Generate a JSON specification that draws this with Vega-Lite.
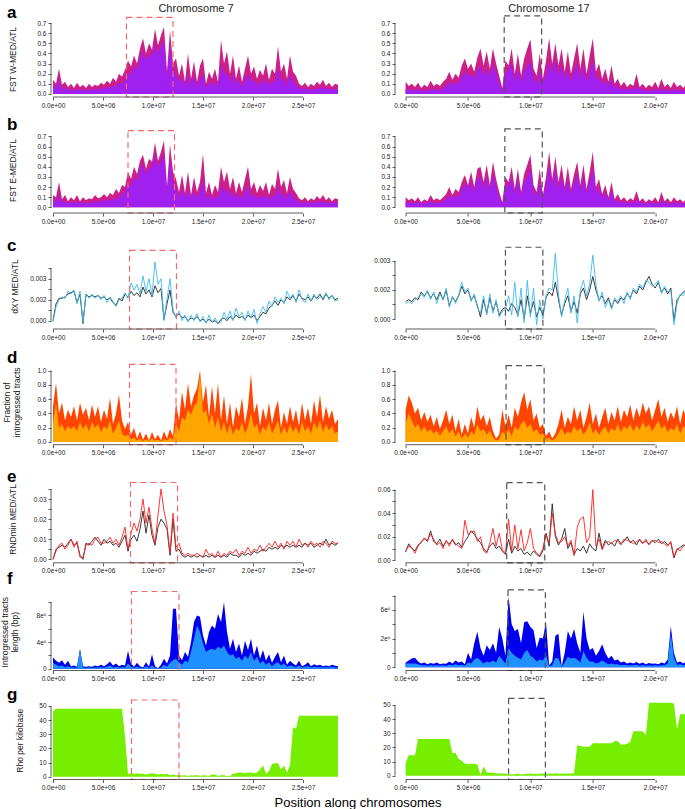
{
"$schema":"https://vega.github.io/schema/vega-lite/v6.json",
"background":"white",
"padding":{"left":0,"top":2,"right":0,"bottom":0},
"columns":2,
"bounds":"flush",
"spacing":{"row":30,"column":67.6},
"title":{"text":"Position along chromosomes","orient":"bottom","anchor":"middle","frame":"group","fontSize":13,"fontWeight":"normal","dx":305,"offset":6},
"datasets":{
"L":[
{"p":0,"a1":0.14,"a2":0.08,"b1":0.12,"b2":0.07,"c1":0,"c2":-0.0001,"d1":0.5,"d2":0.25,"e1":0,"e2":0,"f1":170000,"f2":90000,"g":46},
{"p":300000,"a1":0.1,"a2":0.06,"b1":0.1,"b2":0.05,"c1":0.0012,"c2":0.001,"d1":0.83,"d2":0.55,"e1":0.005,"e2":0.004,"f1":120000,"f2":60000,"g":48},
{"p":600000,"a1":0.25,"a2":0.13,"b1":0.25,"b2":0.12,"c1":0.0016,"c2":0.0015,"d1":0.4,"d2":0.2,"e1":0.006,"e2":0.007,"f1":90000,"f2":40000,"g":48},
{"p":900000,"a1":0.09,"a2":0.05,"b1":0.08,"b2":0.05,"c1":0.0016,"c2":0.0017,"d1":0.55,"d2":0.25,"e1":0.007,"e2":0.008,"f1":130000,"f2":50000,"g":48},
{"p":1200000,"a1":0.12,"a2":0.06,"b1":0.12,"b2":0.06,"c1":0.0017,"c2":0.0016,"d1":0.3,"d2":0.15,"e1":0.006,"e2":0.005,"f1":60000,"f2":25000,"g":48},
{"p":1500000,"a1":0.07,"a2":0.04,"b1":0.06,"b2":0.04,"c1":0.0019,"c2":0.0021,"d1":0.45,"d2":0.22,"e1":0.008,"e2":0.007,"f1":120000,"f2":40000,"g":48},
{"p":1800000,"a1":0.1,"a2":0.05,"b1":0.1,"b2":0.05,"c1":0.002,"c2":0.0019,"d1":0.35,"d2":0.18,"e1":0.01,"e2":0.01,"f1":40000,"f2":20000,"g":48},
{"p":2100000,"a1":0.06,"a2":0.03,"b1":0.07,"b2":0.04,"c1":0.0021,"c2":0.0022,"d1":0.5,"d2":0.22,"e1":0.007,"e2":0.006,"f1":50000,"f2":20000,"g":48},
{"p":2400000,"a1":0.11,"a2":0.05,"b1":0.12,"b2":0.06,"c1":0.0013,"c2":0.0012,"d1":0.3,"d2":0.15,"e1":0.008,"e2":0.009,"f1":30000,"f2":15000,"g":48},
{"p":2700000,"a1":0.07,"a2":0.04,"b1":0.06,"b2":0.04,"c1":0.0019,"c2":0.0021,"d1":0.55,"d2":0.28,"e1":0.002,"e2":0.001,"f1":300000,"f2":290000,"g":48},
{"p":3000000,"a1":0.09,"a2":0.05,"b1":0.1,"b2":0.05,"c1":-0.0002,"c2":-0.0001,"d1":0.38,"d2":0.18,"e1":0,"e2":0.001,"f1":40000,"f2":20000,"g":48},
{"p":3300000,"a1":0.06,"a2":0.03,"b1":0.07,"b2":0.04,"c1":0.0019,"c2":0.0019,"d1":0.48,"d2":0.25,"e1":0.008,"e2":0.007,"f1":30000,"f2":15000,"g":48},
{"p":3600000,"a1":0.1,"a2":0.05,"b1":0.09,"b2":0.05,"c1":0.0017,"c2":0.0016,"d1":0.3,"d2":0.15,"e1":0.007,"e2":0.008,"f1":40000,"f2":20000,"g":48},
{"p":3900000,"a1":0.07,"a2":0.04,"b1":0.08,"b2":0.04,"c1":0.0018,"c2":0.0019,"d1":0.52,"d2":0.28,"e1":0.009,"e2":0.007,"f1":30000,"f2":15000,"g":48},
{"p":4200000,"a1":0.09,"a2":0.05,"b1":0.12,"b2":0.06,"c1":0.0017,"c2":0.0016,"d1":0.35,"d2":0.2,"e1":0.011,"e2":0.01,"f1":50000,"f2":20000,"g":48},
{"p":4500000,"a1":0.08,"a2":0.04,"b1":0.09,"b2":0.05,"c1":0.0018,"c2":0.0018,"d1":0.5,"d2":0.25,"e1":0.009,"e2":0.011,"f1":40000,"f2":18000,"g":48},
{"p":4800000,"a1":0.11,"a2":0.06,"b1":0.1,"b2":0.06,"c1":0.0016,"c2":0.0015,"d1":0.28,"d2":0.14,"e1":0.007,"e2":0.008,"f1":60000,"f2":25000,"g":48},
{"p":5100000,"a1":0.09,"a2":0.05,"b1":0.13,"b2":0.07,"c1":0.0017,"c2":0.0018,"d1":0.45,"d2":0.22,"e1":0.01,"e2":0.008,"f1":40000,"f2":20000,"g":48},
{"p":5400000,"a1":0.13,"a2":0.07,"b1":0.1,"b2":0.06,"c1":0.0015,"c2":0.0013,"d1":0.32,"d2":0.18,"e1":0.008,"e2":0.009,"f1":70000,"f2":30000,"g":48},
{"p":5700000,"a1":0.1,"a2":0.06,"b1":0.14,"b2":0.08,"c1":0.0016,"c2":0.0017,"d1":0.62,"d2":0.3,"e1":0.009,"e2":0.011,"f1":110000,"f2":50000,"g":48},
{"p":6000000,"a1":0.16,"a2":0.09,"b1":0.12,"b2":0.07,"c1":0.0013,"c2":0.0014,"d1":0.25,"d2":0.12,"e1":0.007,"e2":0.008,"f1":50000,"f2":20000,"g":48},
{"p":6300000,"a1":0.12,"a2":0.07,"b1":0.18,"b2":0.1,"c1":0.0011,"c2":0.001,"d1":0.4,"d2":0.2,"e1":0.008,"e2":0.01,"f1":80000,"f2":30000,"g":48},
{"p":6600000,"a1":0.2,"a2":0.11,"b1":0.14,"b2":0.08,"c1":0.0016,"c2":0.0015,"d1":0.66,"d2":0.3,"e1":0.006,"e2":0.007,"f1":40000,"f2":20000,"g":48},
{"p":6900000,"a1":0.17,"a2":0.1,"b1":0.22,"b2":0.14,"c1":0.0014,"c2":0.0016,"d1":0.3,"d2":0.12,"e1":0.009,"e2":0.011,"f1":60000,"f2":25000,"g":48},
{"p":7200000,"a1":0.24,"a2":0.13,"b1":0.2,"b2":0.14,"c1":0.0019,"c2":0.002,"d1":0.18,"d2":0.08,"e1":0.012,"e2":0.016,"f1":50000,"f2":20000,"g":28},
{"p":7500000,"a1":0.33,"a2":0.22,"b1":0.35,"b2":0.25,"c1":0.0017,"c2":0.0016,"d1":0.28,"d2":0.1,"e1":0.004,"e2":0.005,"f1":270000,"f2":80000,"g":2},
{"p":7800000,"a1":0.27,"a2":0.18,"b1":0.28,"b2":0.2,"c1":0.0021,"c2":0.0027,"d1":0.1,"d2":0.04,"e1":0.01,"e2":0.013,"f1":80000,"f2":30000,"g":2.5},
{"p":8100000,"a1":0.38,"a2":0.28,"b1":0.4,"b2":0.3,"c1":0.0018,"c2":0.0022,"d1":0.2,"d2":0.06,"e1":0.012,"e2":0.018,"f1":30000,"f2":15000,"g":2},
{"p":8400000,"a1":0.3,"a2":0.24,"b1":0.33,"b2":0.26,"c1":0.002,"c2":0.0026,"d1":0.05,"d2":0.02,"e1":0.009,"e2":0.014,"f1":90000,"f2":30000,"g":2.5},
{"p":8700000,"a1":0.45,"a2":0.35,"b1":0.46,"b2":0.37,"c1":0.0017,"c2":0.0019,"d1":0.15,"d2":0.05,"e1":0.015,"e2":0.02,"f1":40000,"f2":15000,"g":2},
{"p":9000000,"a1":0.55,"a2":0.42,"b1":0.52,"b2":0.42,"c1":0.0024,"c2":0.0032,"d1":0.03,"d2":0.01,"e1":0.024,"e2":0.03,"f1":20000,"f2":10000,"g":2},
{"p":9300000,"a1":0.4,"a2":0.33,"b1":0.38,"b2":0.32,"c1":0.0019,"c2":0.0021,"d1":0.12,"d2":0.04,"e1":0.013,"e2":0.018,"f1":100000,"f2":40000,"g":1.5},
{"p":9600000,"a1":0.5,"a2":0.4,"b1":0.48,"b2":0.4,"c1":0.0022,"c2":0.003,"d1":0.02,"d2":0.01,"e1":0.022,"e2":0.026,"f1":30000,"f2":10000,"g":2},
{"p":9900000,"a1":0.44,"a2":0.36,"b1":0.45,"b2":0.38,"c1":0.0017,"c2":0.0018,"d1":0.14,"d2":0.05,"e1":0.012,"e2":0.015,"f1":220000,"f2":50000,"g":2.5},
{"p":10200000,"a1":0.64,"a2":0.5,"b1":0.64,"b2":0.52,"c1":0.0025,"c2":0.0042,"d1":0.04,"d2":0.02,"e1":0.007,"e2":0.008,"f1":40000,"f2":15000,"g":2},
{"p":10500000,"a1":0.48,"a2":0.4,"b1":0.46,"b2":0.4,"c1":0.002,"c2":0.0026,"d1":0.1,"d2":0.03,"e1":0.016,"e2":0.022,"f1":10000,"f2":5000,"g":1.5},
{"p":10800000,"a1":0.58,"a2":0.47,"b1":0.55,"b2":0.45,"c1":0.0023,"c2":0.003,"d1":0.02,"d2":0.01,"e1":0.02,"e2":0.035,"f1":60000,"f2":20000,"g":2},
{"p":11100000,"a1":0.66,"a2":0.52,"b1":0.66,"b2":0.54,"c1":0.0001,"c2":0,"d1":0.15,"d2":0.04,"e1":0.018,"e2":0.024,"f1":150000,"f2":60000,"g":1.5},
{"p":11400000,"a1":0.22,"a2":0.16,"b1":0.2,"b2":0.15,"c1":0.0012,"c2":0.0016,"d1":0.05,"d2":0.02,"e1":0.015,"e2":0.017,"f1":80000,"f2":30000,"g":2},
{"p":11700000,"a1":0.63,"a2":0.48,"b1":0.62,"b2":0.5,"c1":0.0022,"c2":0.003,"d1":0.18,"d2":0.06,"e1":0.002,"e2":0.003,"f1":200000,"f2":90000,"g":1},
{"p":12000000,"a1":0.3,"a2":0.22,"b1":0.35,"b2":0.25,"c1":0.0006,"c2":0.0008,"d1":0.08,"d2":0.03,"e1":0.02,"e2":0.023,"f1":900000,"f2":130000,"g":1.5},
{"p":12300000,"a1":0.35,"a2":0.2,"b1":0.28,"b2":0.18,"c1":0.0003,"c2":0.0002,"d1":0.55,"d2":0.25,"e1":0.004,"e2":0.006,"f1":900000,"f2":150000,"g":1},
{"p":12600000,"a1":0.18,"a2":0.12,"b1":0.15,"b2":0.1,"c1":0.0005,"c2":0.0007,"d1":0.3,"d2":0.15,"e1":0.005,"e2":0.008,"f1":200000,"f2":100000,"g":1},
{"p":12900000,"a1":0.3,"a2":0.15,"b1":0.32,"b2":0.18,"c1":0.0002,"c2":0,"d1":0.7,"d2":0.35,"e1":0.002,"e2":0.003,"f1":130000,"f2":60000,"g":0.8},
{"p":13200000,"a1":0.12,"a2":0.08,"b1":0.14,"b2":0.09,"c1":0.0003,"c2":0.0004,"d1":0.45,"d2":0.3,"e1":0.001,"e2":0.002,"f1":250000,"f2":120000,"g":1},
{"p":13500000,"a1":0.4,"a2":0.2,"b1":0.35,"b2":0.18,"c1":0,"c2":-0.0001,"d1":0.82,"d2":0.45,"e1":0.002,"e2":0.003,"f1":180000,"f2":100000,"g":0.5},
{"p":13800000,"a1":0.15,"a2":0.09,"b1":0.12,"b2":0.08,"c1":0.0002,"c2":0.0004,"d1":0.5,"d2":0.38,"e1":0.001,"e2":0.002,"f1":400000,"f2":250000,"g":1},
{"p":14100000,"a1":0.32,"a2":0.18,"b1":0.3,"b2":0.16,"c1":0.0001,"c2":0,"d1":0.65,"d2":0.5,"e1":0.002,"e2":0.002,"f1":700000,"f2":450000,"g":0.8},
{"p":14400000,"a1":0.12,"a2":0.07,"b1":0.15,"b2":0.09,"c1":0.0003,"c2":0.0005,"d1":0.75,"d2":0.55,"e1":0.001,"e2":0.003,"f1":800000,"f2":650000,"g":1.2},
{"p":14700000,"a1":0.28,"a2":0.15,"b1":0.25,"b2":0.14,"c1":0,"c2":-0.0001,"d1":1,"d2":0.95,"e1":0.002,"e2":0.002,"f1":780000,"f2":550000,"g":0.5},
{"p":15000000,"a1":0.35,"a2":0.18,"b1":0.53,"b2":0.28,"c1":0.0001,"c2":0.0003,"d1":0.55,"d2":0.4,"e1":0.001,"e2":0.001,"f1":500000,"f2":380000,"g":1},
{"p":15300000,"a1":0.1,"a2":0.06,"b1":0.14,"b2":0.08,"c1":-0.0001,"c2":-0.0002,"d1":0.8,"d2":0.45,"e1":0.002,"e2":0.005,"f1":350000,"f2":250000,"g":0.8},
{"p":15600000,"a1":0.22,"a2":0.12,"b1":0.25,"b2":0.13,"c1":0.0001,"c2":0.0004,"d1":0.35,"d2":0.25,"e1":0.001,"e2":0.002,"f1":550000,"f2":280000,"g":0.5},
{"p":15900000,"a1":0.15,"a2":0.08,"b1":0.12,"b2":0.07,"c1":-0.0001,"c2":-0.0001,"d1":0.78,"d2":0.4,"e1":0.002,"e2":0.003,"f1":650000,"f2":300000,"g":1.5},
{"p":16200000,"a1":0.25,"a2":0.13,"b1":0.22,"b2":0.12,"c1":0,"c2":0.0002,"d1":0.4,"d2":0.2,"e1":0.001,"e2":0.001,"f1":600000,"f2":280000,"g":1.5},
{"p":16500000,"a1":0.12,"a2":0.07,"b1":0.15,"b2":0.08,"c1":-0.0002,"c2":-0.0002,"d1":0.82,"d2":0.35,"e1":0.002,"e2":0.004,"f1":820000,"f2":330000,"g":0.5},
{"p":16800000,"a1":0.53,"a2":0.3,"b1":0.4,"b2":0.22,"c1":0.0001,"c2":-0.0001,"d1":0.3,"d2":0.15,"e1":0.001,"e2":0.001,"f1":700000,"f2":300000,"g":1},
{"p":17100000,"a1":0.3,"a2":0.18,"b1":0.25,"b2":0.14,"c1":0.0002,"c2":0.0006,"d1":0.65,"d2":0.28,"e1":0.002,"e2":0.003,"f1":1000000,"f2":350000,"g":1},
{"p":17400000,"a1":0.42,"a2":0.22,"b1":0.35,"b2":0.19,"c1":0,"c2":0.0001,"d1":0.25,"d2":0.12,"e1":0.001,"e2":0.002,"f1":550000,"f2":250000,"g":0.5},
{"p":17700000,"a1":0.2,"a2":0.12,"b1":0.18,"b2":0.1,"c1":0.0003,"c2":0.0007,"d1":0.55,"d2":0.25,"e1":0.003,"e2":0.004,"f1":300000,"f2":200000,"g":0.5},
{"p":18000000,"a1":0.38,"a2":0.2,"b1":0.3,"b2":0.16,"c1":0.0001,"c2":0,"d1":0.2,"d2":0.1,"e1":0.002,"e2":0.003,"f1":450000,"f2":220000,"g":2},
{"p":18300000,"a1":0.15,"a2":0.09,"b1":0.14,"b2":0.08,"c1":0.0004,"c2":0.0009,"d1":0.5,"d2":0.2,"e1":0.002,"e2":0.005,"f1":250000,"f2":150000,"g":2.5},
{"p":18600000,"a1":0.28,"a2":0.15,"b1":0.25,"b2":0.13,"c1":0.0002,"c2":0.0003,"d1":0.35,"d2":0.15,"e1":0.001,"e2":0.002,"f1":380000,"f2":180000,"g":3},
{"p":18900000,"a1":0.12,"a2":0.07,"b1":0.15,"b2":0.08,"c1":0.0003,"c2":0.0006,"d1":0.62,"d2":0.28,"e1":0.003,"e2":0.004,"f1":200000,"f2":120000,"g":3},
{"p":19200000,"a1":0.25,"a2":0.14,"b1":0.28,"b2":0.15,"c1":0.0001,"c2":0,"d1":0.25,"d2":0.12,"e1":0.002,"e2":0.003,"f1":420000,"f2":200000,"g":2.5},
{"p":19500000,"a1":0.38,"a2":0.2,"b1":0.4,"b2":0.21,"c1":0.0004,"c2":0.0007,"d1":0.5,"d2":0.22,"e1":0.003,"e2":0.006,"f1":280000,"f2":150000,"g":3},
{"p":19800000,"a1":0.2,"a2":0.11,"b1":0.18,"b2":0.1,"c1":0.0002,"c2":0.0002,"d1":0.95,"d2":0.4,"e1":0.002,"e2":0.003,"f1":450000,"f2":250000,"g":3},
{"p":20100000,"a1":0.27,"a2":0.15,"b1":0.25,"b2":0.13,"c1":0.0004,"c2":0.0008,"d1":0.4,"d2":0.2,"e1":0.004,"e2":0.005,"f1":200000,"f2":120000,"g":2.5},
{"p":20400000,"a1":0.15,"a2":0.08,"b1":0.14,"b2":0.08,"c1":0,"c2":-0.0002,"d1":0.55,"d2":0.25,"e1":0.003,"e2":0.004,"f1":350000,"f2":180000,"g":3},
{"p":20700000,"a1":0.24,"a2":0.13,"b1":0.22,"b2":0.12,"c1":0.0003,"c2":0.0005,"d1":0.22,"d2":0.1,"e1":0.004,"e2":0.007,"f1":150000,"f2":80000,"g":5},
{"p":21000000,"a1":0.18,"a2":0.1,"b1":0.16,"b2":0.09,"c1":0.0006,"c2":0.001,"d1":0.48,"d2":0.22,"e1":0.005,"e2":0.004,"f1":280000,"f2":120000,"g":8},
{"p":21300000,"a1":0.3,"a2":0.15,"b1":0.25,"b2":0.13,"c1":0.0005,"c2":0.0006,"d1":0.3,"d2":0.15,"e1":0.004,"e2":0.006,"f1":120000,"f2":60000,"g":2},
{"p":21600000,"a1":0.14,"a2":0.08,"b1":0.12,"b2":0.07,"c1":0.0009,"c2":0.0014,"d1":0.55,"d2":0.28,"e1":0.006,"e2":0.008,"f1":220000,"f2":100000,"g":4},
{"p":21900000,"a1":0.25,"a2":0.13,"b1":0.23,"b2":0.12,"c1":0.0011,"c2":0.001,"d1":0.25,"d2":0.12,"e1":0.005,"e2":0.006,"f1":90000,"f2":40000,"g":9},
{"p":22200000,"a1":0.2,"a2":0.11,"b1":0.18,"b2":0.1,"c1":0.0014,"c2":0.0017,"d1":0.45,"d2":0.2,"e1":0.006,"e2":0.009,"f1":180000,"f2":80000,"g":9.5},
{"p":22500000,"a1":0.47,"a2":0.25,"b1":0.38,"b2":0.2,"c1":0.0011,"c2":0.0013,"d1":0.58,"d2":0.3,"e1":0.005,"e2":0.006,"f1":250000,"f2":100000,"g":9.5},
{"p":22800000,"a1":0.22,"a2":0.12,"b1":0.2,"b2":0.11,"c1":0.0015,"c2":0.0016,"d1":0.2,"d2":0.1,"e1":0.007,"e2":0.008,"f1":100000,"f2":50000,"g":5},
{"p":23100000,"a1":0.3,"a2":0.16,"b1":0.27,"b2":0.14,"c1":0.0013,"c2":0.0012,"d1":0.42,"d2":0.22,"e1":0.006,"e2":0.005,"f1":200000,"f2":80000,"g":8},
{"p":23400000,"a1":0.15,"a2":0.08,"b1":0.14,"b2":0.08,"c1":0.0017,"c2":0.0021,"d1":0.25,"d2":0.12,"e1":0.007,"e2":0.009,"f1":60000,"f2":30000,"g":3},
{"p":23700000,"a1":0.38,"a2":0.2,"b1":0.3,"b2":0.16,"c1":0.0015,"c2":0.0016,"d1":0.5,"d2":0.25,"e1":0.006,"e2":0.007,"f1":120000,"f2":50000,"g":8},
{"p":24000000,"a1":0.22,"a2":0.12,"b1":0.18,"b2":0.1,"c1":0.0018,"c2":0.0019,"d1":0.28,"d2":0.14,"e1":0.007,"e2":0.009,"f1":80000,"f2":40000,"g":35},
{"p":24300000,"a1":0.18,"a2":0.09,"b1":0.14,"b2":0.08,"c1":0.0014,"c2":0.0013,"d1":0.45,"d2":0.22,"e1":0.006,"e2":0.006,"f1":50000,"f2":25000,"g":34},
{"p":24600000,"a1":0.1,"a2":0.06,"b1":0.09,"b2":0.05,"c1":0.0019,"c2":0.0022,"d1":0.22,"d2":0.1,"e1":0.007,"e2":0.01,"f1":120000,"f2":50000,"g":43},
{"p":24900000,"a1":0.08,"a2":0.05,"b1":0.07,"b2":0.04,"c1":0.0016,"c2":0.0015,"d1":0.55,"d2":0.28,"e1":0.006,"e2":0.007,"f1":40000,"f2":20000,"g":43},
{"p":25200000,"a1":0.11,"a2":0.06,"b1":0.1,"b2":0.06,"c1":0.0015,"c2":0.0013,"d1":0.3,"d2":0.15,"e1":0.008,"e2":0.008,"f1":60000,"f2":30000,"g":43},
{"p":25500000,"a1":0.07,"a2":0.04,"b1":0.06,"b2":0.04,"c1":0.0017,"c2":0.0019,"d1":0.48,"d2":0.22,"e1":0.007,"e2":0.006,"f1":100000,"f2":40000,"g":43},
{"p":25800000,"a1":0.1,"a2":0.05,"b1":0.09,"b2":0.05,"c1":0.0014,"c2":0.0014,"d1":0.25,"d2":0.12,"e1":0.008,"e2":0.009,"f1":40000,"f2":20000,"g":43},
{"p":26100000,"a1":0.08,"a2":0.04,"b1":0.07,"b2":0.04,"c1":0.0018,"c2":0.0019,"d1":0.58,"d2":0.28,"e1":0.006,"e2":0.007,"f1":70000,"f2":30000,"g":43},
{"p":26400000,"a1":0.12,"a2":0.06,"b1":0.11,"b2":0.06,"c1":0.0016,"c2":0.0015,"d1":0.35,"d2":0.18,"e1":0.007,"e2":0.008,"f1":50000,"f2":25000,"g":43},
{"p":26700000,"a1":0.09,"a2":0.05,"b1":0.08,"b2":0.05,"c1":0.0019,"c2":0.0017,"d1":0.66,"d2":0.3,"e1":0.008,"e2":0.006,"f1":60000,"f2":25000,"g":43},
{"p":27000000,"a1":0.14,"a2":0.07,"b1":0.12,"b2":0.06,"c1":0.0015,"c2":0.0016,"d1":0.28,"d2":0.14,"e1":0.007,"e2":0.009,"f1":40000,"f2":20000,"g":43},
{"p":27300000,"a1":0.08,"a2":0.05,"b1":0.07,"b2":0.04,"c1":0.0019,"c2":0.002,"d1":0.5,"d2":0.25,"e1":0.01,"e2":0.008,"f1":50000,"f2":25000,"g":43},
{"p":27600000,"a1":0.11,"a2":0.06,"b1":0.1,"b2":0.05,"c1":0.0016,"c2":0.0015,"d1":0.32,"d2":0.16,"e1":0.007,"e2":0.006,"f1":40000,"f2":20000,"g":43},
{"p":27900000,"a1":0.07,"a2":0.04,"b1":0.06,"b2":0.04,"c1":0.0018,"c2":0.0018,"d1":0.45,"d2":0.22,"e1":0.008,"e2":0.009,"f1":60000,"f2":30000,"g":43},
{"p":28200000,"a1":0.1,"a2":0.05,"b1":0.09,"b2":0.05,"c1":0.0015,"c2":0.0014,"d1":0.25,"d2":0.12,"e1":0.007,"e2":0.008,"f1":45000,"f2":20000,"g":43},
{"p":28500000,"a1":0.09,"a2":0.05,"b1":0.08,"b2":0.04,"c1":0.0016,"c2":0.0015,"d1":0.32,"d2":0.15,"e1":0.008,"e2":0.008,"f1":40000,"f2":20000,"g":43}
],
"R":[
{"p":0,"a1":0.12,"a2":0.05,"b1":0.1,"b2":0.06,"c1":0.0009,"c2":0.0008,"d1":0.45,"d2":0.25,"e1":0.007,"e2":0.008,"f1":50000,"f2":40000,"g":9},
{"p":250000,"a1":0.08,"a2":0.04,"b1":0.07,"b2":0.04,"c1":0.001,"c2":0.0009,"d1":0.65,"d2":0.4,"e1":0.014,"e2":0.012,"f1":70000,"f2":40000,"g":14.5},
{"p":500000,"a1":0.1,"a2":0.05,"b1":0.09,"b2":0.05,"c1":0.0009,"c2":0.0008,"d1":0.55,"d2":0.3,"e1":0.01,"e2":0.011,"f1":90000,"f2":40000,"g":14.5},
{"p":750000,"a1":0.07,"a2":0.03,"b1":0.06,"b2":0.04,"c1":0.0011,"c2":0.001,"d1":0.4,"d2":0.2,"e1":0.008,"e2":0.006,"f1":100000,"f2":40000,"g":14.5},
{"p":1000000,"a1":0.11,"a2":0.05,"b1":0.1,"b2":0.06,"c1":0.001,"c2":0.0011,"d1":0.48,"d2":0.25,"e1":0.013,"e2":0.012,"f1":60000,"f2":30000,"g":26},
{"p":1250000,"a1":0.06,"a2":0.03,"b1":0.05,"b2":0.03,"c1":0.0014,"c2":0.0013,"d1":0.3,"d2":0.15,"e1":0.015,"e2":0.016,"f1":40000,"f2":20000,"g":26},
{"p":1500000,"a1":0.09,"a2":0.04,"b1":0.08,"b2":0.05,"c1":0.0012,"c2":0.0011,"d1":0.42,"d2":0.22,"e1":0.019,"e2":0.018,"f1":50000,"f2":20000,"g":26},
{"p":1750000,"a1":0.07,"a2":0.03,"b1":0.06,"b2":0.04,"c1":0.0014,"c2":0.0015,"d1":0.28,"d2":0.14,"e1":0.016,"e2":0.017,"f1":30000,"f2":15000,"g":26},
{"p":2000000,"a1":0.13,"a2":0.05,"b1":0.12,"b2":0.06,"c1":0.0011,"c2":0.001,"d1":0.38,"d2":0.18,"e1":0.025,"e2":0.022,"f1":45000,"f2":20000,"g":26},
{"p":2250000,"a1":0.08,"a2":0.04,"b1":0.07,"b2":0.04,"c1":0.0013,"c2":0.0014,"d1":0.22,"d2":0.12,"e1":0.016,"e2":0.018,"f1":35000,"f2":15000,"g":26},
{"p":2500000,"a1":0.1,"a2":0.05,"b1":0.09,"b2":0.05,"c1":0.001,"c2":0.0008,"d1":0.35,"d2":0.16,"e1":0.014,"e2":0.013,"f1":50000,"f2":20000,"g":26},
{"p":2750000,"a1":0.08,"a2":0.04,"b1":0.07,"b2":0.04,"c1":0.0014,"c2":0.0013,"d1":0.18,"d2":0.09,"e1":0.018,"e2":0.015,"f1":30000,"f2":15000,"g":26},
{"p":3000000,"a1":0.12,"a2":0.06,"b1":0.1,"b2":0.06,"c1":0.001,"c2":0.001,"d1":0.3,"d2":0.15,"e1":0.012,"e2":0.01,"f1":40000,"f2":20000,"g":26},
{"p":3250000,"a1":0.15,"a2":0.08,"b1":0.13,"b2":0.08,"c1":0.0015,"c2":0.0016,"d1":0.45,"d2":0.22,"e1":0.016,"e2":0.017,"f1":35000,"f2":15000,"g":26},
{"p":3500000,"a1":0.22,"a2":0.12,"b1":0.2,"b2":0.12,"c1":0.0007,"c2":0.0006,"d1":0.25,"d2":0.12,"e1":0.014,"e2":0.012,"f1":60000,"f2":25000,"g":26},
{"p":3750000,"a1":0.14,"a2":0.08,"b1":0.12,"b2":0.08,"c1":0.0011,"c2":0.0012,"d1":0.38,"d2":0.18,"e1":0.017,"e2":0.018,"f1":40000,"f2":20000,"g":16},
{"p":4000000,"a1":0.2,"a2":0.12,"b1":0.18,"b2":0.12,"c1":0.0009,"c2":0.0008,"d1":0.15,"d2":0.08,"e1":0.013,"e2":0.014,"f1":70000,"f2":30000,"g":16},
{"p":4250000,"a1":0.16,"a2":0.1,"b1":0.15,"b2":0.1,"c1":0.0012,"c2":0.0012,"d1":0.32,"d2":0.15,"e1":0.015,"e2":0.012,"f1":50000,"f2":20000,"g":12},
{"p":4500000,"a1":0.28,"a2":0.17,"b1":0.25,"b2":0.18,"c1":0.0017,"c2":0.0019,"d1":0.1,"d2":0.05,"e1":0.011,"e2":0.01,"f1":60000,"f2":25000,"g":10.5},
{"p":4750000,"a1":0.35,"a2":0.22,"b1":0.32,"b2":0.24,"c1":0.0013,"c2":0.0014,"d1":0.25,"d2":0.12,"e1":0.016,"e2":0.034,"f1":30000,"f2":15000,"g":8.5},
{"p":5000000,"a1":0.25,"a2":0.17,"b1":0.22,"b2":0.17,"c1":0.0015,"c2":0.0016,"d1":0.12,"d2":0.06,"e1":0.02,"e2":0.022,"f1":150000,"f2":50000,"g":8.5},
{"p":5250000,"a1":0.3,"a2":0.2,"b1":0.35,"b2":0.26,"c1":0.001,"c2":0.0009,"d1":0.35,"d2":0.15,"e1":0.025,"e2":0.024,"f1":80000,"f2":40000,"g":8.5},
{"p":5500000,"a1":0.22,"a2":0.15,"b1":0.2,"b2":0.15,"c1":0.0012,"c2":0.0013,"d1":0.2,"d2":0.1,"e1":0.022,"e2":0.025,"f1":250000,"f2":80000,"g":8.5},
{"p":5750000,"a1":0.36,"a2":0.24,"b1":0.38,"b2":0.28,"c1":0.0007,"c2":0.0006,"d1":0.5,"d2":0.25,"e1":0.018,"e2":0.016,"f1":370000,"f2":100000,"g":8},
{"p":6000000,"a1":0.45,"a2":0.28,"b1":0.4,"b2":0.3,"c1":0.0001,"c2":0.0003,"d1":0.3,"d2":0.15,"e1":0.015,"e2":0.02,"f1":200000,"f2":70000,"g":0.5},
{"p":6250000,"a1":0.28,"a2":0.18,"b1":0.25,"b2":0.18,"c1":0.001,"c2":0.0012,"d1":0.38,"d2":0.18,"e1":0.01,"e2":0.008,"f1":120000,"f2":40000,"g":6.5},
{"p":6500000,"a1":0.42,"a2":0.26,"b1":0.42,"b2":0.3,"c1":0.0003,"c2":0.0002,"d1":0.22,"d2":0.1,"e1":0.007,"e2":0.006,"f1":230000,"f2":60000,"g":2.5},
{"p":6750000,"a1":0.25,"a2":0.16,"b1":0.22,"b2":0.16,"c1":0.0011,"c2":0.0013,"d1":0.35,"d2":0.16,"e1":0.012,"e2":0.015,"f1":180000,"f2":50000,"g":2},
{"p":7000000,"a1":0.45,"a2":0.3,"b1":0.45,"b2":0.33,"c1":0.0004,"c2":0.0003,"d1":0.15,"d2":0.07,"e1":0.015,"e2":0.027,"f1":250000,"f2":70000,"g":2},
{"p":7250000,"a1":0.3,"a2":0.2,"b1":0.28,"b2":0.2,"c1":0.0009,"c2":0.001,"d1":0.05,"d2":0.02,"e1":0.01,"e2":0.012,"f1":150000,"f2":50000,"g":1.8},
{"p":7500000,"a1":0.18,"a2":0.1,"b1":0.15,"b2":0.1,"c1":0.0002,"c2":0.0001,"d1":0.1,"d2":0.04,"e1":0.012,"e2":0.023,"f1":420000,"f2":120000,"g":1.5},
{"p":7750000,"a1":0.06,"a2":0.03,"b1":0.05,"b2":0.03,"c1":0.0005,"c2":0.0004,"d1":0.45,"d2":0.15,"e1":0.008,"e2":0.009,"f1":300000,"f2":80000,"g":1.5},
{"p":8000000,"a1":0.33,"a2":0.2,"b1":0.3,"b2":0.22,"c1":0.0006,"c2":0.0005,"d1":0.22,"d2":0.1,"e1":0.005,"e2":0.006,"f1":120000,"f2":40000,"g":1.5},
{"p":8250000,"a1":0.28,"a2":0.24,"b1":0.25,"b2":0.2,"c1":0.0004,"c2":0.0012,"d1":0.38,"d2":0.18,"e1":0.018,"e2":0.035,"f1":740000,"f2":200000,"g":1},
{"p":8500000,"a1":0.45,"a2":0.3,"b1":0.4,"b2":0.3,"c1":0.0008,"c2":0.0002,"d1":0.2,"d2":0.08,"e1":0.006,"e2":0.008,"f1":450000,"f2":150000,"g":1},
{"p":8750000,"a1":0.2,"a2":0.13,"b1":0.18,"b2":0.13,"c1":0.0006,"c2":0.0019,"d1":0.48,"d2":0.22,"e1":0.012,"e2":0.03,"f1":380000,"f2":120000,"g":1},
{"p":9000000,"a1":0.4,"a2":0.25,"b1":0.38,"b2":0.28,"c1":0.0002,"c2":0.0001,"d1":0.35,"d2":0.16,"e1":0.008,"e2":0.01,"f1":400000,"f2":100000,"g":1.5},
{"p":9250000,"a1":0.18,"a2":0.12,"b1":0.15,"b2":0.11,"c1":0.001,"c2":0.0016,"d1":0.55,"d2":0.25,"e1":0.01,"e2":0.026,"f1":250000,"f2":80000,"g":0.8},
{"p":9500000,"a1":0.35,"a2":0.22,"b1":0.33,"b2":0.24,"c1":0,"c2":-0.0002,"d1":0.7,"d2":0.3,"e1":0.005,"e2":0.008,"f1":470000,"f2":150000,"g":1.2},
{"p":9750000,"a1":0.45,"a2":0.28,"b1":0.42,"b2":0.3,"c1":0.0012,"c2":0.002,"d1":0.45,"d2":0.2,"e1":0.007,"e2":0.015,"f1":480000,"f2":180000,"g":1.3},
{"p":10000000,"a1":0.54,"a2":0.32,"b1":0.52,"b2":0.38,"c1":0.0003,"c2":0.0001,"d1":0.6,"d2":0.25,"e1":0.004,"e2":0.027,"f1":420000,"f2":120000,"g":1.5},
{"p":10250000,"a1":0.25,"a2":0.15,"b1":0.22,"b2":0.16,"c1":0.0009,"c2":0.0016,"d1":0.3,"d2":0.14,"e1":0.008,"e2":0.01,"f1":390000,"f2":100000,"g":1.2},
{"p":10500000,"a1":0.18,"a2":0.1,"b1":0.15,"b2":0.1,"c1":0.0001,"c2":-0.0003,"d1":0.4,"d2":0.18,"e1":0.005,"e2":0.006,"f1":200000,"f2":60000,"g":1.4},
{"p":10750000,"a1":0.4,"a2":0.22,"b1":0.38,"b2":0.25,"c1":0.0006,"c2":0.001,"d1":0.2,"d2":0.1,"e1":0.003,"e2":0.004,"f1":310000,"f2":80000,"g":1.3},
{"p":11000000,"a1":0.15,"a2":0.1,"b1":0.12,"b2":0.09,"c1":0.0002,"c2":0,"d1":0.25,"d2":0.12,"e1":0.008,"e2":0.01,"f1":300000,"f2":70000,"g":1.6},
{"p":11250000,"a1":0.33,"a2":0.2,"b1":0.3,"b2":0.22,"c1":0.0011,"c2":0.0012,"d1":0.08,"d2":0.04,"e1":0.023,"e2":0.022,"f1":470000,"f2":130000,"g":1.3},
{"p":11500000,"a1":0.55,"a2":0.32,"b1":0.55,"b2":0.4,"c1":0.0014,"c2":0.0016,"d1":0.15,"d2":0.06,"e1":0.012,"e2":0.015,"f1":20000,"f2":10000,"g":1.5},
{"p":11750000,"a1":0.3,"a2":0.2,"b1":0.28,"b2":0.2,"c1":0.0012,"c2":0.0015,"d1":0.05,"d2":0.02,"e1":0.048,"e2":0.04,"f1":60000,"f2":20000,"g":1.4},
{"p":12000000,"a1":0.5,"a2":0.35,"b1":0.5,"b2":0.38,"c1":0.0019,"c2":0.0034,"d1":0.12,"d2":0.05,"e1":0.02,"e2":0.022,"f1":330000,"f2":100000,"g":1.8},
{"p":12250000,"a1":0.28,"a2":0.18,"b1":0.25,"b2":0.18,"c1":0.001,"c2":0.0013,"d1":0.25,"d2":0.12,"e1":0.013,"e2":0.015,"f1":350000,"f2":90000,"g":1.3},
{"p":12500000,"a1":0.45,"a2":0.28,"b1":0.42,"b2":0.3,"c1":0.0002,"c2":0.0001,"d1":0.45,"d2":0.2,"e1":0.018,"e2":0.016,"f1":10000,"f2":5000,"g":1.5},
{"p":12750000,"a1":0.22,"a2":0.14,"b1":0.2,"b2":0.15,"c1":0.0008,"c2":0.001,"d1":0.2,"d2":0.1,"e1":0.027,"e2":0.02,"f1":150000,"f2":50000,"g":1.4},
{"p":13000000,"a1":0.42,"a2":0.26,"b1":0.4,"b2":0.28,"c1":0.0012,"c2":0.0016,"d1":0.35,"d2":0.15,"e1":0.01,"e2":0.012,"f1":380000,"f2":110000,"g":1.6},
{"p":13250000,"a1":0.2,"a2":0.12,"b1":0.18,"b2":0.13,"c1":0.0004,"c2":0.0003,"d1":0.25,"d2":0.12,"e1":0.015,"e2":0.017,"f1":300000,"f2":90000,"g":1.5},
{"p":13500000,"a1":0.35,"a2":0.22,"b1":0.33,"b2":0.24,"c1":0.0009,"c2":0.0012,"d1":0.5,"d2":0.22,"e1":0.005,"e2":0.004,"f1":400000,"f2":100000,"g":1.7},
{"p":13750000,"a1":0.5,"a2":0.3,"b1":0.45,"b2":0.33,"c1":0.0003,"c2":-0.0002,"d1":0.3,"d2":0.15,"e1":0.01,"e2":0.028,"f1":250000,"f2":80000,"g":21.5},
{"p":14000000,"a1":0.25,"a2":0.15,"b1":0.22,"b2":0.16,"c1":0.0013,"c2":0.0015,"d1":0.45,"d2":0.2,"e1":0.008,"e2":0.035,"f1":150000,"f2":50000,"g":21},
{"p":14250000,"a1":0.45,"a2":0.28,"b1":0.42,"b2":0.3,"c1":0.0016,"c2":0.002,"d1":0.2,"d2":0.1,"e1":0.012,"e2":0.037,"f1":580000,"f2":170000,"g":20.5},
{"p":14500000,"a1":0.2,"a2":0.12,"b1":0.18,"b2":0.13,"c1":0.001,"c2":0.0012,"d1":0.35,"d2":0.16,"e1":0.006,"e2":0.015,"f1":300000,"f2":100000,"g":20.5},
{"p":14750000,"a1":0.38,"a2":0.22,"b1":0.35,"b2":0.25,"c1":0.0015,"c2":0.0018,"d1":0.55,"d2":0.28,"e1":0.014,"e2":0.02,"f1":180000,"f2":60000,"g":20.5},
{"p":15000000,"a1":0.55,"a2":0.32,"b1":0.55,"b2":0.38,"c1":0.0022,"c2":0.0033,"d1":0.25,"d2":0.12,"e1":0.01,"e2":0.06,"f1":200000,"f2":60000,"g":23},
{"p":15250000,"a1":0.22,"a2":0.14,"b1":0.2,"b2":0.14,"c1":0.0015,"c2":0.0018,"d1":0.4,"d2":0.18,"e1":0.008,"e2":0.012,"f1":120000,"f2":40000,"g":23},
{"p":15500000,"a1":0.3,"a2":0.18,"b1":0.28,"b2":0.2,"c1":0.001,"c2":0.0009,"d1":0.2,"d2":0.1,"e1":0.023,"e2":0.018,"f1":170000,"f2":50000,"g":23},
{"p":15750000,"a1":0.15,"a2":0.09,"b1":0.13,"b2":0.09,"c1":0.0012,"c2":0.0014,"d1":0.35,"d2":0.17,"e1":0.01,"e2":0.009,"f1":240000,"f2":70000,"g":23},
{"p":16000000,"a1":0.25,"a2":0.14,"b1":0.22,"b2":0.15,"c1":0.0008,"c2":0.0006,"d1":0.48,"d2":0.22,"e1":0.017,"e2":0.015,"f1":150000,"f2":50000,"g":23},
{"p":16250000,"a1":0.12,"a2":0.07,"b1":0.1,"b2":0.07,"c1":0.0011,"c2":0.001,"d1":0.25,"d2":0.12,"e1":0.013,"e2":0.016,"f1":90000,"f2":30000,"g":23},
{"p":16500000,"a1":0.28,"a2":0.15,"b1":0.25,"b2":0.16,"c1":0.0006,"c2":0.0005,"d1":0.42,"d2":0.2,"e1":0.015,"e2":0.014,"f1":120000,"f2":40000,"g":23},
{"p":16750000,"a1":0.1,"a2":0.06,"b1":0.08,"b2":0.05,"c1":0.001,"c2":0.0011,"d1":0.3,"d2":0.15,"e1":0.012,"e2":0.017,"f1":70000,"f2":30000,"g":24.5},
{"p":17000000,"a1":0.15,"a2":0.08,"b1":0.13,"b2":0.08,"c1":0.0008,"c2":0.0009,"d1":0.5,"d2":0.25,"e1":0.018,"e2":0.016,"f1":80000,"f2":30000,"g":24.5},
{"p":17250000,"a1":0.08,"a2":0.04,"b1":0.07,"b2":0.04,"c1":0.0011,"c2":0.0012,"d1":0.28,"d2":0.14,"e1":0.014,"e2":0.013,"f1":50000,"f2":20000,"g":22},
{"p":17500000,"a1":0.12,"a2":0.06,"b1":0.1,"b2":0.06,"c1":0.001,"c2":0.0008,"d1":0.45,"d2":0.22,"e1":0.016,"e2":0.018,"f1":60000,"f2":25000,"g":22},
{"p":17750000,"a1":0.07,"a2":0.04,"b1":0.06,"b2":0.04,"c1":0.0013,"c2":0.0014,"d1":0.35,"d2":0.18,"e1":0.02,"e2":0.017,"f1":40000,"f2":20000,"g":22.5},
{"p":18000000,"a1":0.1,"a2":0.05,"b1":0.09,"b2":0.05,"c1":0.0011,"c2":0.001,"d1":0.52,"d2":0.25,"e1":0.015,"e2":0.016,"f1":50000,"f2":20000,"g":24},
{"p":18250000,"a1":0.08,"a2":0.04,"b1":0.07,"b2":0.04,"c1":0.0015,"c2":0.0016,"d1":0.3,"d2":0.15,"e1":0.017,"e2":0.014,"f1":40000,"f2":20000,"g":31.5},
{"p":18500000,"a1":0.2,"a2":0.08,"b1":0.16,"b2":0.08,"c1":0.0013,"c2":0.0014,"d1":0.48,"d2":0.24,"e1":0.013,"e2":0.016,"f1":55000,"f2":25000,"g":31.5},
{"p":18750000,"a1":0.07,"a2":0.04,"b1":0.06,"b2":0.04,"c1":0.0017,"c2":0.0018,"d1":0.35,"d2":0.17,"e1":0.018,"e2":0.017,"f1":35000,"f2":15000,"g":31.5},
{"p":19000000,"a1":0.1,"a2":0.05,"b1":0.09,"b2":0.05,"c1":0.0015,"c2":0.0016,"d1":0.55,"d2":0.28,"e1":0.015,"e2":0.014,"f1":50000,"f2":20000,"g":31.5},
{"p":19250000,"a1":0.06,"a2":0.03,"b1":0.05,"b2":0.03,"c1":0.0019,"c2":0.002,"d1":0.4,"d2":0.2,"e1":0.016,"e2":0.018,"f1":30000,"f2":15000,"g":29},
{"p":19500000,"a1":0.09,"a2":0.04,"b1":0.08,"b2":0.05,"c1":0.0022,"c2":0.0019,"d1":0.5,"d2":0.25,"e1":0.014,"e2":0.013,"f1":45000,"f2":20000,"g":51.5},
{"p":19750000,"a1":0.07,"a2":0.03,"b1":0.06,"b2":0.04,"c1":0.0018,"c2":0.0017,"d1":0.3,"d2":0.15,"e1":0.017,"e2":0.016,"f1":35000,"f2":15000,"g":51.5},
{"p":20000000,"a1":0.12,"a2":0.05,"b1":0.1,"b2":0.05,"c1":0.0016,"c2":0.0018,"d1":0.45,"d2":0.22,"e1":0.015,"e2":0.017,"f1":40000,"f2":20000,"g":51.5},
{"p":20250000,"a1":0.06,"a2":0.03,"b1":0.05,"b2":0.03,"c1":0.0019,"c2":0.002,"d1":0.6,"d2":0.3,"e1":0.018,"e2":0.015,"f1":30000,"f2":15000,"g":51.5},
{"p":20500000,"a1":0.15,"a2":0.06,"b1":0.15,"b2":0.07,"c1":0.0014,"c2":0.0013,"d1":0.35,"d2":0.18,"e1":0.014,"e2":0.016,"f1":50000,"f2":20000,"g":51.5},
{"p":20750000,"a1":0.07,"a2":0.03,"b1":0.06,"b2":0.04,"c1":0.0016,"c2":0.0017,"d1":0.48,"d2":0.24,"e1":0.016,"e2":0.014,"f1":40000,"f2":20000,"g":51.5},
{"p":21000000,"a1":0.1,"a2":0.05,"b1":0.09,"b2":0.05,"c1":0.0013,"c2":0.0014,"d1":0.28,"d2":0.14,"e1":0.013,"e2":0.012,"f1":80000,"f2":40000,"g":51.5},
{"p":21250000,"a1":0.06,"a2":0.03,"b1":0.05,"b2":0.03,"c1":0.0016,"c2":0.0015,"d1":0.42,"d2":0.2,"e1":0.015,"e2":0.016,"f1":430000,"f2":350000,"g":51.5},
{"p":21500000,"a1":0.12,"a2":0.05,"b1":0.1,"b2":0.05,"c1":-0.0001,"c2":-0.0003,"d1":0.32,"d2":0.16,"e1":0.002,"e2":0.003,"f1":150000,"f2":100000,"g":51},
{"p":21750000,"a1":0.07,"a2":0.03,"b1":0.06,"b2":0.04,"c1":0.001,"c2":0.0008,"d1":0.5,"d2":0.25,"e1":0.009,"e2":0.01,"f1":50000,"f2":25000,"g":33},
{"p":22000000,"a1":0.09,"a2":0.04,"b1":0.08,"b2":0.04,"c1":0.0012,"c2":0.0013,"d1":0.25,"d2":0.12,"e1":0.011,"e2":0.008,"f1":60000,"f2":30000,"g":43.5},
{"p":22250000,"a1":0.06,"a2":0.03,"b1":0.05,"b2":0.03,"c1":0.0014,"c2":0.0012,"d1":0.45,"d2":0.22,"e1":0.013,"e2":0.012,"f1":40000,"f2":20000,"g":43.5},
{"p":22500000,"a1":0.1,"a2":0.05,"b1":0.09,"b2":0.05,"c1":0.0015,"c2":0.0016,"d1":0.35,"d2":0.18,"e1":0.012,"e2":0.014,"f1":60000,"f2":30000,"g":43.5},
{"p":22900000,"a1":0.07,"a2":0.03,"b1":0.06,"b2":0.03,"c1":0.0019,"c2":0.0021,"d1":0.58,"d2":0.3,"e1":0.015,"e2":0.012,"f1":55000,"f2":25000,"g":43.5}
]
},
"concat":[
{"width":285,"height":76,"data":{"name":"L"},
"title":{"text":"a","anchor":"start","frame":"group","dx":-46,"dy":19.5,"fontSize":17,"fontWeight":"bold","offset":0},
"resolve":{"axis":{"x":"independent","y":"independent"}},
"layer":[
{"mark":{"type":"area","color":"#CC1F88"},"encoding":{"x":{"field":"p","type":"quantitative","scale":{"domain":[0,28500000],"nice":false,"zero":false},"axis":{"values":[0,5000000,10000000,15000000,20000000,25000000],"labelExpr":"replace(format(datum.value,'.1e'),'e+','e+0')","title":null}},"y":{"field":"a1","type":"quantitative","scale":{"domain":[-0.0296,0.72],"nice":false,"zero":false},"axis":{"values":[0,0.1,0.2,0.3,0.4,0.5,0.6,0.7],"format":".1f","title":"FST W-MED/ATL","titlePadding":19,"offset":2,"labelOverlap":false}}}},
{"mark":{"type":"area","color":"#A020F0"},"encoding":{"x":{"field":"p","type":"quantitative","axis":null},"y":{"field":"a2","type":"quantitative","axis":null}}},
{"data":{"values":[{}]},"mark":{"type":"rect","filled":false,"color":"#F26B6B","strokeDash":[6,4],"strokeWidth":1.2},"encoding":{"x":{"datum":7350000,"type":"quantitative","axis":null},"x2":{"datum":12000000},"y":{"datum":0.755,"type":"quantitative","axis":null},"y2":{"datum":-0.0296}}},
{"data":{"values":[{}]},"mark":{"type":"rule","color":"#333","strokeWidth":0.8},"encoding":{"x":{"datum":-200000,"type":"quantitative","axis":null},"y":{"datum":0,"type":"quantitative","axis":null},"y2":{"datum":0.7}}},
{"data":{"values":[{}]},"mark":{"type":"rule","color":"#333","strokeWidth":0.8},"encoding":{"x":{"datum":0,"type":"quantitative","axis":{"orient":"top","title":"Chromosome 7","labels":false,"ticks":false,"domain":false,"titleFontSize":11,"titlePadding":8}},"x2":{"datum":25000000},"y":{"datum":-0.0296,"type":"quantitative","axis":null}}}
]},
{"width":285.8,"height":76,"data":{"name":"R"},
"resolve":{"axis":{"x":"independent","y":"independent"}},
"layer":[
{"mark":{"type":"area","color":"#CC1F88"},"encoding":{"x":{"field":"p","type":"quantitative","scale":{"domain":[0,22900000],"nice":false,"zero":false},"axis":{"values":[0,5000000,10000000,15000000,20000000],"labelExpr":"replace(format(datum.value,'.1e'),'e+','e+0')","title":null}},"y":{"field":"a1","type":"quantitative","scale":{"domain":[-0.0296,0.72],"nice":false,"zero":false},"axis":{"values":[0,0.1,0.2,0.3,0.4,0.5,0.6,0.7],"format":".1f","title":null,"offset":10.6,"labelOverlap":false}}}},
{"mark":{"type":"area","color":"#A020F0"},"encoding":{"x":{"field":"p","type":"quantitative","axis":null},"y":{"field":"a2","type":"quantitative","axis":null}}},
{"data":{"values":[{}]},"mark":{"type":"rect","filled":false,"color":"#555","strokeDash":[6,4],"strokeWidth":1.2},"encoding":{"x":{"datum":7900000,"type":"quantitative","axis":null},"x2":{"datum":10900000},"y":{"datum":0.77,"type":"quantitative","axis":null},"y2":{"datum":-0.0296}}},
{"data":{"values":[{}]},"mark":{"type":"rule","color":"#333","strokeWidth":0.8},"encoding":{"x":{"datum":-850000,"type":"quantitative","axis":null},"y":{"datum":0,"type":"quantitative","axis":null},"y2":{"datum":0.7}}},
{"data":{"values":[{}]},"mark":{"type":"rule","color":"#333","strokeWidth":0.8},"encoding":{"x":{"datum":0,"type":"quantitative","axis":{"orient":"top","title":"Chromosome 17","labels":false,"ticks":false,"domain":false,"titleFontSize":11,"titlePadding":8}},"x2":{"datum":20000000},"y":{"datum":-0.0296,"type":"quantitative","axis":null}}}
]},
{"width":285,"height":86,"data":{"name":"L"},
"title":{"text":"b","anchor":"start","frame":"group","dx":-46,"dy":6.5,"fontSize":17,"fontWeight":"bold","offset":0},
"resolve":{"axis":{"x":"independent","y":"independent"}},
"layer":[
{"mark":{"type":"area","color":"#CC1F88"},"encoding":{"x":{"field":"p","type":"quantitative","scale":{"domain":[0,28500000],"nice":false,"zero":false},"axis":{"values":[0,5000000,10000000,15000000,20000000,25000000],"labelExpr":"replace(format(datum.value,'.1e'),'e+','e+0')","title":null}},"y":{"field":"b1","type":"quantitative","scale":{"domain":[-0.057,0.794],"nice":false,"zero":false},"axis":{"values":[0,0.1,0.2,0.3,0.4,0.5,0.6,0.7],"format":".1f","title":"FST E-MED/ATL","titlePadding":19,"offset":2,"labelOverlap":false}}}},
{"mark":{"type":"area","color":"#A020F0"},"encoding":{"x":{"field":"p","type":"quantitative","axis":null},"y":{"field":"b2","type":"quantitative","axis":null}}},
{"data":{"values":[{}]},"mark":{"type":"rect","filled":false,"color":"#F26B6B","strokeDash":[6,4],"strokeWidth":1.2},"encoding":{"x":{"datum":7500000,"type":"quantitative","axis":null},"x2":{"datum":12150000},"y":{"datum":0.758,"type":"quantitative","axis":null},"y2":{"datum":-0.057}}},
{"data":{"values":[{}]},"mark":{"type":"rule","color":"#333","strokeWidth":0.8},"encoding":{"x":{"datum":-200000,"type":"quantitative","axis":null},"y":{"datum":0,"type":"quantitative","axis":null},"y2":{"datum":0.7}}},
{"data":{"values":[{}]},"mark":{"type":"rule","color":"#333","strokeWidth":0.8},"encoding":{"x":{"datum":0,"type":"quantitative","axis":null},"x2":{"datum":25000000},"y":{"datum":-0.057,"type":"quantitative","axis":null}}}
]},
{"width":285.8,"height":86,"data":{"name":"R"},
"resolve":{"axis":{"x":"independent","y":"independent"}},
"layer":[
{"mark":{"type":"area","color":"#CC1F88"},"encoding":{"x":{"field":"p","type":"quantitative","scale":{"domain":[0,22900000],"nice":false,"zero":false},"axis":{"values":[0,5000000,10000000,15000000,20000000],"labelExpr":"replace(format(datum.value,'.1e'),'e+','e+0')","title":null}},"y":{"field":"b1","type":"quantitative","scale":{"domain":[-0.057,0.794],"nice":false,"zero":false},"axis":{"values":[0,0.1,0.2,0.3,0.4,0.5,0.6,0.7],"format":".1f","title":null,"offset":10.6,"labelOverlap":false}}}},
{"mark":{"type":"area","color":"#A020F0"},"encoding":{"x":{"field":"p","type":"quantitative","axis":null},"y":{"field":"b2","type":"quantitative","axis":null}}},
{"data":{"values":[{}]},"mark":{"type":"rect","filled":false,"color":"#555","strokeDash":[6,4],"strokeWidth":1.2},"encoding":{"x":{"datum":7950000,"type":"quantitative","axis":null},"x2":{"datum":10950000},"y":{"datum":0.775,"type":"quantitative","axis":null},"y2":{"datum":-0.057}}},
{"data":{"values":[{}]},"mark":{"type":"rule","color":"#333","strokeWidth":0.8},"encoding":{"x":{"datum":-850000,"type":"quantitative","axis":null},"y":{"datum":0,"type":"quantitative","axis":null},"y2":{"datum":0.7}}},
{"data":{"values":[{}]},"mark":{"type":"rule","color":"#333","strokeWidth":0.8},"encoding":{"x":{"datum":0,"type":"quantitative","axis":null},"x2":{"datum":20000000},"y":{"datum":-0.057,"type":"quantitative","axis":null}}}
]},
{"width":285,"height":86,"data":{"name":"L"},
"title":{"text":"c","anchor":"start","frame":"group","dx":-46,"dy":11.5,"fontSize":17,"fontWeight":"bold","offset":0},
"resolve":{"axis":{"x":"independent","y":"independent"}},
"layer":[
{"mark":{"type":"line","color":"#222","strokeWidth":0.9},"encoding":{"x":{"field":"p","type":"quantitative","scale":{"domain":[0,28500000],"nice":false,"zero":false},"axis":{"values":[0,5000000,10000000,15000000,20000000,25000000],"labelExpr":"replace(format(datum.value,'.1e'),'e+','e+0')","title":null}},"y":{"field":"c1","type":"quantitative","scale":{"domain":[-0.000593,0.00555],"nice":false,"zero":false},"axis":{"values":[0,0.00075,0.0015,0.00225,0.003,0.00375],"labelExpr":"datum.value==0?'0.000':abs(datum.value-0.0015)<0.0001?'0.002':abs(datum.value-0.003)<0.0001?'0.003':''","title":"dXY MED/ATL","titlePadding":10,"offset":2,"labelOverlap":false}}}},
{"mark":{"type":"line","color":"#3DBBEB","strokeWidth":0.9},"encoding":{"x":{"field":"p","type":"quantitative","axis":null},"y":{"field":"c2","type":"quantitative","axis":null}}},
{"data":{"values":[{}]},"mark":{"type":"rect","filled":false,"color":"#F26B6B","strokeDash":[6,4],"strokeWidth":1.2},"encoding":{"x":{"datum":7650000,"type":"quantitative","axis":null},"x2":{"datum":12350000},"y":{"datum":0.00503,"type":"quantitative","axis":null},"y2":{"datum":-0.000593}}},
{"data":{"values":[{}]},"mark":{"type":"rule","color":"#333","strokeWidth":0.8},"encoding":{"x":{"datum":-200000,"type":"quantitative","axis":null},"y":{"datum":0,"type":"quantitative","axis":null},"y2":{"datum":0.00375}}},
{"data":{"values":[{}]},"mark":{"type":"rule","color":"#333","strokeWidth":0.8},"encoding":{"x":{"datum":0,"type":"quantitative","axis":null},"x2":{"datum":25000000},"y":{"datum":-0.000593,"type":"quantitative","axis":null}}}
]},
{"width":285.8,"height":86,"data":{"name":"R"},
"resolve":{"axis":{"x":"independent","y":"independent"}},
"layer":[
{"mark":{"type":"line","color":"#222","strokeWidth":0.9},"encoding":{"x":{"field":"p","type":"quantitative","scale":{"domain":[0,22900000],"nice":false,"zero":false},"axis":{"values":[0,5000000,10000000,15000000,20000000],"labelExpr":"replace(format(datum.value,'.1e'),'e+','e+0')","title":null}},"y":{"field":"c1","type":"quantitative","scale":{"domain":[-0.000517,0.00393],"nice":false,"zero":false},"axis":{"values":[0,0.00075,0.0015,0.00225,0.003],"labelExpr":"datum.value==0?'0.000':abs(datum.value-0.0015)<0.0001?'0.002':abs(datum.value-0.003)<0.0001?'0.003':''","title":null,"offset":10.6,"labelOverlap":false}}}},
{"mark":{"type":"line","color":"#3DBBEB","strokeWidth":0.9},"encoding":{"x":{"field":"p","type":"quantitative","axis":null},"y":{"field":"c2","type":"quantitative","axis":null}}},
{"data":{"values":[{}]},"mark":{"type":"rect","filled":false,"color":"#555","strokeDash":[6,4],"strokeWidth":1.2},"encoding":{"x":{"datum":8000000,"type":"quantitative","axis":null},"x2":{"datum":11000000},"y":{"datum":0.00371,"type":"quantitative","axis":null},"y2":{"datum":-0.000517}}},
{"data":{"values":[{}]},"mark":{"type":"rule","color":"#333","strokeWidth":0.8},"encoding":{"x":{"datum":-850000,"type":"quantitative","axis":null},"y":{"datum":0,"type":"quantitative","axis":null},"y2":{"datum":0.003}}},
{"data":{"values":[{}]},"mark":{"type":"rule","color":"#333","strokeWidth":0.8},"encoding":{"x":{"datum":0,"type":"quantitative","axis":null},"x2":{"datum":20000000},"y":{"datum":-0.000517,"type":"quantitative","axis":null}}}
]},
{"width":285,"height":85.7,"data":{"name":"L"},
"title":{"text":"d","anchor":"start","frame":"group","dx":-46,"dy":7.5,"fontSize":17,"fontWeight":"bold","offset":0},
"resolve":{"axis":{"x":"independent","y":"independent"}},
"layer":[
{"mark":{"type":"area","color":"#FF4500"},"encoding":{"x":{"field":"p","type":"quantitative","scale":{"domain":[0,28500000],"nice":false,"zero":false},"axis":{"values":[0,5000000,10000000,15000000,20000000,25000000],"labelExpr":"replace(format(datum.value,'.1e'),'e+','e+0')","title":null}},"y":{"field":"d1","type":"quantitative","scale":{"domain":[-0.038,1.161],"nice":false,"zero":false},"axis":{"values":[0,0.2,0.4,0.6,0.8,1],"format":".1f","title":["Fraction of","introgressed tracts"],"titlePadding":15.5,"offset":2,"labelOverlap":false}}}},
{"mark":{"type":"area","color":"#FFA500"},"encoding":{"x":{"field":"p","type":"quantitative","axis":null},"y":{"field":"d2","type":"quantitative","axis":null}}},
{"data":{"values":[{}]},"mark":{"type":"rect","filled":false,"color":"#F26B6B","strokeDash":[6,4],"strokeWidth":1.2},"encoding":{"x":{"datum":7650000,"type":"quantitative","axis":null},"x2":{"datum":12300000},"y":{"datum":1.087,"type":"quantitative","axis":null},"y2":{"datum":-0.038}}},
{"data":{"values":[{}]},"mark":{"type":"rule","color":"#333","strokeWidth":0.8},"encoding":{"x":{"datum":-200000,"type":"quantitative","axis":null},"y":{"datum":0,"type":"quantitative","axis":null},"y2":{"datum":1}}},
{"data":{"values":[{}]},"mark":{"type":"rule","color":"#333","strokeWidth":0.8},"encoding":{"x":{"datum":0,"type":"quantitative","axis":null},"x2":{"datum":25000000},"y":{"datum":-0.038,"type":"quantitative","axis":null}}}
]},
{"width":285.8,"height":85.7,"data":{"name":"R"},
"resolve":{"axis":{"x":"independent","y":"independent"}},
"layer":[
{"mark":{"type":"area","color":"#FF4500"},"encoding":{"x":{"field":"p","type":"quantitative","scale":{"domain":[0,22900000],"nice":false,"zero":false},"axis":{"values":[0,5000000,10000000,15000000,20000000],"labelExpr":"replace(format(datum.value,'.1e'),'e+','e+0')","title":null}},"y":{"field":"d1","type":"quantitative","scale":{"domain":[-0.038,1.161],"nice":false,"zero":false},"axis":{"values":[0,0.2,0.4,0.6,0.8,1],"format":".1f","title":null,"offset":10.6,"labelOverlap":false}}}},
{"mark":{"type":"area","color":"#FFA500"},"encoding":{"x":{"field":"p","type":"quantitative","axis":null},"y":{"field":"d2","type":"quantitative","axis":null}}},
{"data":{"values":[{}]},"mark":{"type":"rect","filled":false,"color":"#555","strokeDash":[6,4],"strokeWidth":1.2},"encoding":{"x":{"datum":8050000,"type":"quantitative","axis":null},"x2":{"datum":11100000},"y":{"datum":1.067,"type":"quantitative","axis":null},"y2":{"datum":-0.038}}},
{"data":{"values":[{}]},"mark":{"type":"rule","color":"#333","strokeWidth":0.8},"encoding":{"x":{"datum":-850000,"type":"quantitative","axis":null},"y":{"datum":0,"type":"quantitative","axis":null},"y2":{"datum":1}}},
{"data":{"values":[{}]},"mark":{"type":"rule","color":"#333","strokeWidth":0.8},"encoding":{"x":{"datum":0,"type":"quantitative","axis":null},"x2":{"datum":20000000},"y":{"datum":-0.038,"type":"quantitative","axis":null}}}
]},
{"width":285,"height":87.8,"data":{"name":"L"},
"title":{"text":"e","anchor":"start","frame":"group","dx":-46,"dy":10.5,"fontSize":17,"fontWeight":"bold","offset":0},
"resolve":{"axis":{"x":"independent","y":"independent"}},
"layer":[
{"mark":{"type":"line","color":"#222","strokeWidth":0.9},"encoding":{"x":{"field":"p","type":"quantitative","scale":{"domain":[0,28500000],"nice":false,"zero":false},"axis":{"values":[0,5000000,10000000,15000000,20000000,25000000],"labelExpr":"replace(format(datum.value,'.1e'),'e+','e+0')","title":null}},"y":{"field":"e1","type":"quantitative","scale":{"domain":[-0.00174,0.04194],"nice":false,"zero":false},"axis":{"values":[0,0.005,0.01,0.015,0.02,0.025,0.03,0.035],"labelExpr":"abs(datum.value*100-round(datum.value*100))<0.01?format(datum.value,'.2f'):''","title":"RNDmin MED/ATL","titlePadding":15.5,"offset":2,"labelOverlap":false}}}},
{"mark":{"type":"line","color":"#FF2020","strokeWidth":0.9},"encoding":{"x":{"field":"p","type":"quantitative","axis":null},"y":{"field":"e2","type":"quantitative","axis":null}}},
{"data":{"values":[{}]},"mark":{"type":"rect","filled":false,"color":"#F26B6B","strokeDash":[6,4],"strokeWidth":1.2},"encoding":{"x":{"datum":7750000,"type":"quantitative","axis":null},"x2":{"datum":12450000},"y":{"datum":0.0382,"type":"quantitative","axis":null},"y2":{"datum":-0.00174}}},
{"data":{"values":[{}]},"mark":{"type":"rule","color":"#333","strokeWidth":0.8},"encoding":{"x":{"datum":-200000,"type":"quantitative","axis":null},"y":{"datum":0,"type":"quantitative","axis":null},"y2":{"datum":0.035}}},
{"data":{"values":[{}]},"mark":{"type":"rule","color":"#333","strokeWidth":0.8},"encoding":{"x":{"datum":0,"type":"quantitative","axis":null},"x2":{"datum":25000000},"y":{"datum":-0.00174,"type":"quantitative","axis":null}}}
]},
{"width":285.8,"height":87.8,"data":{"name":"R"},
"resolve":{"axis":{"x":"independent","y":"independent"}},
"layer":[
{"mark":{"type":"line","color":"#222","strokeWidth":0.9},"encoding":{"x":{"field":"p","type":"quantitative","scale":{"domain":[0,22900000],"nice":false,"zero":false},"axis":{"values":[0,5000000,10000000,15000000,20000000],"labelExpr":"replace(format(datum.value,'.1e'),'e+','e+0')","title":null}},"y":{"field":"e1","type":"quantitative","scale":{"domain":[-0.00212,0.0724],"nice":false,"zero":false},"axis":{"values":[0,0.01,0.02,0.03,0.04,0.05,0.06],"labelExpr":"round(datum.value*100)%2==0?format(datum.value,'.2f'):''","title":null,"offset":10.6,"labelOverlap":false}}}},
{"mark":{"type":"line","color":"#FF2020","strokeWidth":0.9},"encoding":{"x":{"field":"p","type":"quantitative","axis":null},"y":{"field":"e2","type":"quantitative","axis":null}}},
{"data":{"values":[{}]},"mark":{"type":"rect","filled":false,"color":"#555","strokeDash":[6,4],"strokeWidth":1.2},"encoding":{"x":{"datum":8100000,"type":"quantitative","axis":null},"x2":{"datum":11150000},"y":{"datum":0.066,"type":"quantitative","axis":null},"y2":{"datum":-0.00212}}},
{"data":{"values":[{}]},"mark":{"type":"rule","color":"#333","strokeWidth":0.8},"encoding":{"x":{"datum":-850000,"type":"quantitative","axis":null},"y":{"datum":0,"type":"quantitative","axis":null},"y2":{"datum":0.06}}},
{"data":{"values":[{}]},"mark":{"type":"rule","color":"#333","strokeWidth":0.8},"encoding":{"x":{"datum":0,"type":"quantitative","axis":null},"x2":{"datum":20000000},"y":{"datum":-0.00212,"type":"quantitative","axis":null}}}
]},
{"width":285,"height":77.5,"data":{"name":"L"},
"title":{"text":"f","anchor":"start","frame":"group","dx":-46,"dy":-2.5,"fontSize":17,"fontWeight":"bold","offset":0},
"resolve":{"axis":{"x":"independent","y":"independent"}},
"layer":[
{"mark":{"type":"area","color":"#0000EE"},"encoding":{"x":{"field":"p","type":"quantitative","scale":{"domain":[0,28500000],"nice":false,"zero":false},"axis":{"values":[0,5000000,10000000,15000000,20000000,25000000],"labelExpr":"replace(format(datum.value,'.1e'),'e+','e+0')","title":null}},"y":{"field":"f1","type":"quantitative","scale":{"domain":[-25490,1136400],"nice":false,"zero":false},"axis":{"values":[0,200000,400000,600000,800000,1000000],"labelExpr":"datum.value==0?'0':datum.value==400000?'4e⁵':datum.value==800000?'8e⁵':''","title":["Introgressed tracts","length (bp)"],"titlePadding":17,"offset":2,"labelOverlap":false}}}},
{"mark":{"type":"area","color":"#1E90FF"},"encoding":{"x":{"field":"p","type":"quantitative","axis":null},"y":{"field":"f2","type":"quantitative","axis":null}}},
{"data":{"values":[{}]},"mark":{"type":"rect","filled":false,"color":"#F26B6B","strokeDash":[6,4],"strokeWidth":1.2},"encoding":{"x":{"datum":7850000,"type":"quantitative","axis":null},"x2":{"datum":12600000},"y":{"datum":1159000,"type":"quantitative","axis":null},"y2":{"datum":-25490}}},
{"data":{"values":[{}]},"mark":{"type":"rule","color":"#333","strokeWidth":0.8},"encoding":{"x":{"datum":-200000,"type":"quantitative","axis":null},"y":{"datum":0,"type":"quantitative","axis":null},"y2":{"datum":1000000}}},
{"data":{"values":[{}]},"mark":{"type":"rule","color":"#333","strokeWidth":0.8},"encoding":{"x":{"datum":0,"type":"quantitative","axis":null},"x2":{"datum":25000000},"y":{"datum":-25490,"type":"quantitative","axis":null}}}
]},
{"width":285.8,"height":77.5,"data":{"name":"R"},
"resolve":{"axis":{"x":"independent","y":"independent"}},
"layer":[
{"mark":{"type":"area","color":"#0000EE"},"encoding":{"x":{"field":"p","type":"quantitative","scale":{"domain":[0,22900000],"nice":false,"zero":false},"axis":{"values":[0,5000000,10000000,15000000,20000000],"labelExpr":"replace(format(datum.value,'.1e'),'e+','e+0')","title":null}},"y":{"field":"f1","type":"quantitative","scale":{"domain":[-34530,776500],"nice":false,"zero":false},"axis":{"values":[0,150000,300000,450000,600000,750000],"labelExpr":"datum.value==0?'0':datum.value==300000?'2e⁵':datum.value==600000?'6e⁵':''","title":null,"offset":10.6,"labelOverlap":false}}}},
{"mark":{"type":"area","color":"#1E90FF"},"encoding":{"x":{"field":"p","type":"quantitative","axis":null},"y":{"field":"f2","type":"quantitative","axis":null}}},
{"data":{"values":[{}]},"mark":{"type":"rect","filled":false,"color":"#555","strokeDash":[6,4],"strokeWidth":1.2},"encoding":{"x":{"datum":8200000,"type":"quantitative","axis":null},"x2":{"datum":11200000},"y":{"datum":810000,"type":"quantitative","axis":null},"y2":{"datum":-34530}}},
{"data":{"values":[{}]},"mark":{"type":"rule","color":"#333","strokeWidth":0.8},"encoding":{"x":{"datum":-850000,"type":"quantitative","axis":null},"y":{"datum":0,"type":"quantitative","axis":null},"y2":{"datum":750000}}},
{"data":{"values":[{}]},"mark":{"type":"rule","color":"#333","strokeWidth":0.8},"encoding":{"x":{"datum":0,"type":"quantitative","axis":null},"x2":{"datum":20000000},"y":{"datum":-34530,"type":"quantitative","axis":null}}}
]},
{"width":285,"height":78.5,"data":{"name":"L"},
"title":{"text":"g","anchor":"start","frame":"group","dx":-46,"dy":4.5,"fontSize":17,"fontWeight":"bold","offset":0},
"resolve":{"axis":{"x":"independent","y":"independent"}},
"layer":[
{"mark":{"type":"area","color":"#76EE00"},"encoding":{"x":{"field":"p","type":"quantitative","scale":{"domain":[0,28500000],"nice":false,"zero":false},"axis":{"values":[0,5000000,10000000,15000000,20000000,25000000],"labelExpr":"replace(format(datum.value,'.1e'),'e+','e+0')","title":null}},"y":{"field":"g","type":"quantitative","scale":{"domain":[-1.98,53.5],"nice":false,"zero":false},"axis":{"values":[0,10,20,30,40,50],"title":"Rho per kilobase","titlePadding":14,"offset":2,"labelOverlap":false}}}},
{"data":{"values":[{}]},"mark":{"type":"rect","filled":false,"color":"#F26B6B","strokeDash":[6,4],"strokeWidth":1.2},"encoding":{"x":{"datum":7850000,"type":"quantitative","axis":null},"x2":{"datum":12600000},"y":{"datum":54.2,"type":"quantitative","axis":null},"y2":{"datum":-1.98}}},
{"data":{"values":[{}]},"mark":{"type":"rule","color":"#333","strokeWidth":0.8},"encoding":{"x":{"datum":-200000,"type":"quantitative","axis":null},"y":{"datum":0,"type":"quantitative","axis":null},"y2":{"datum":50}}},
{"data":{"values":[{}]},"mark":{"type":"rule","color":"#333","strokeWidth":0.8},"encoding":{"x":{"datum":0,"type":"quantitative","axis":null},"x2":{"datum":25000000},"y":{"datum":-1.98,"type":"quantitative","axis":null}}}
]},
{"width":285.8,"height":78.5,"data":{"name":"R"},
"resolve":{"axis":{"x":"independent","y":"independent"}},
"layer":[
{"mark":{"type":"area","color":"#76EE00"},"encoding":{"x":{"field":"p","type":"quantitative","scale":{"domain":[0,22900000],"nice":false,"zero":false},"axis":{"values":[0,5000000,10000000,15000000,20000000],"labelExpr":"replace(format(datum.value,'.1e'),'e+','e+0')","title":null}},"y":{"field":"g","type":"quantitative","scale":{"domain":[-2.69,52.8],"nice":false,"zero":false},"axis":{"values":[0,10,20,30,40,50],"title":null,"offset":10.6,"labelOverlap":false}}}},
{"data":{"values":[{}]},"mark":{"type":"rect","filled":false,"color":"#555","strokeDash":[6,4],"strokeWidth":1.2},"encoding":{"x":{"datum":8250000,"type":"quantitative","axis":null},"x2":{"datum":11200000},"y":{"datum":54.7,"type":"quantitative","axis":null},"y2":{"datum":-2.69}}},
{"data":{"values":[{}]},"mark":{"type":"rule","color":"#333","strokeWidth":0.8},"encoding":{"x":{"datum":-850000,"type":"quantitative","axis":null},"y":{"datum":0,"type":"quantitative","axis":null},"y2":{"datum":50}}},
{"data":{"values":[{}]},"mark":{"type":"rule","color":"#333","strokeWidth":0.8},"encoding":{"x":{"datum":0,"type":"quantitative","axis":null},"x2":{"datum":20000000},"y":{"datum":-2.69,"type":"quantitative","axis":null}}}
]}
],
"config":{
"view":{"stroke":null},
"font":"Liberation Sans",
"axis":{"grid":false,"domain":false,"tickColor":"#333","tickSize":3,"tickWidth":0.8,"labelFont":"Liberation Sans","labelFontSize":6.5,"labelColor":"#222","labelPadding":2,"labelSeparation":-100,"labelFlush":false,"titleFont":"Liberation Sans","titleFontSize":8.5,"titleFontWeight":"normal","titleColor":"#222","titleLineHeight":9.5},
"title":{"font":"Liberation Sans","color":"#000"}
}
}
